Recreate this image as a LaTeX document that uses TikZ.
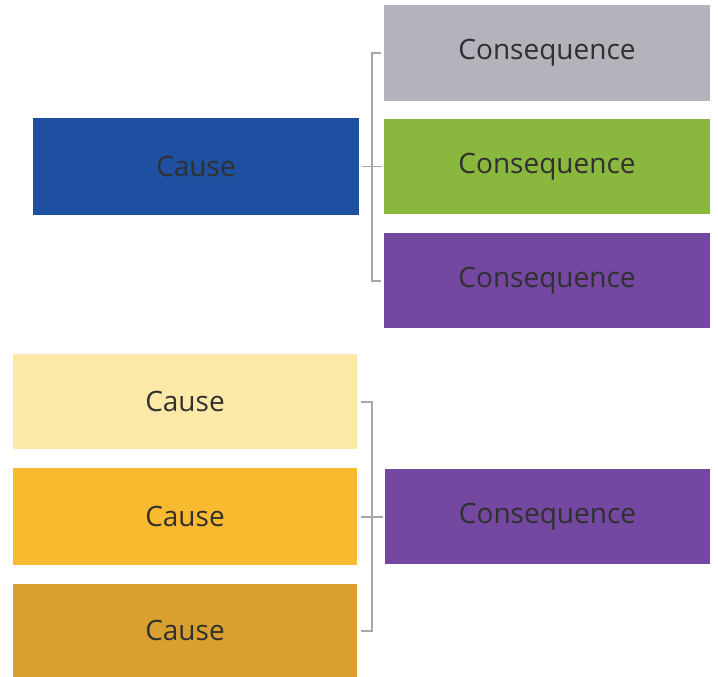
\documentclass[tikz,border=0pt]{standalone}
\usepackage{fontspec}
\setmainfont{Open Sans}
\usetikzlibrary{calc}
\definecolor{cblue}{HTML}{1E4FA0}
\definecolor{cgrey}{HTML}{B4B2BA}
\definecolor{cgreen}{HTML}{8AB83E}
\definecolor{cpurple}{HTML}{7447A0}
\definecolor{clight}{HTML}{FCE9A8}
\definecolor{cyellow}{HTML}{F9BA30}
\definecolor{cgold}{HTML}{D9A030}
\definecolor{ctext}{HTML}{303030}
\definecolor{cline}{HTML}{A8A8A8}
\tikzset{
  box/.style={rectangle, inner sep=0pt, text=ctext, font=\fontsize{28}{32}\selectfont},
  bracket/.style={draw=cline, line width=1.2pt}
}
\begin{document}
\begin{tikzpicture}[x=1pt,y=-1pt]
\useasboundingbox (0,0) rectangle (718,677);
% top group
\node[box, fill=cblue, minimum width=326pt, minimum height=97pt] (cause1) at (196,166.5) {Cause};
\node[box, fill=cgrey, minimum width=326pt, minimum height=96pt] (cons1) at (547,53) {Consequence};
\node[box, fill=cgreen, minimum width=326pt, minimum height=95pt] (cons2) at (547,166.5) {Consequence};
\node[box, fill=cpurple, minimum width=326pt, minimum height=95pt] (cons3) at (547,280.5) {Consequence};
% bottom group
\node[box, fill=clight, minimum width=344pt, minimum height=95pt] (cause2) at (185,401.5) {Cause};
\node[box, fill=cyellow, minimum width=344pt, minimum height=97pt] (cause3) at (185,516.5) {Cause};
\node[box, fill=cgold, minimum width=344pt, minimum height=93pt] (cause4) at (185,630.5) {Cause};
\node[box, fill=cpurple, minimum width=325pt, minimum height=95pt] (cons4) at (547.5,516.5) {Consequence};
% top bracket
\coordinate (t1) at (372,53);
\coordinate (t2) at (372,281);
\draw[bracket] ($(cons1.west)+(-3,0)$) -- (t1) -- (t2) -- ($(cons3.west)+(-3,0.5)$);
\draw[bracket] ($(cause1.east)+(3,0)$) -- ($(cons2.west)+(-2,0)$);
% bottom bracket
\coordinate (b1) at (372,402);
\coordinate (b2) at (372,631);
\draw[bracket] ($(cause2.east)+(4,0.5)$) -- (b1) -- (b2) -- ($(cause4.east)+(4,0.5)$);
\draw[bracket] ($(cause3.east)+(4,0.5)$) -- ($(cons4.west)+(-2,0.5)$);
\end{tikzpicture}
\end{document}
